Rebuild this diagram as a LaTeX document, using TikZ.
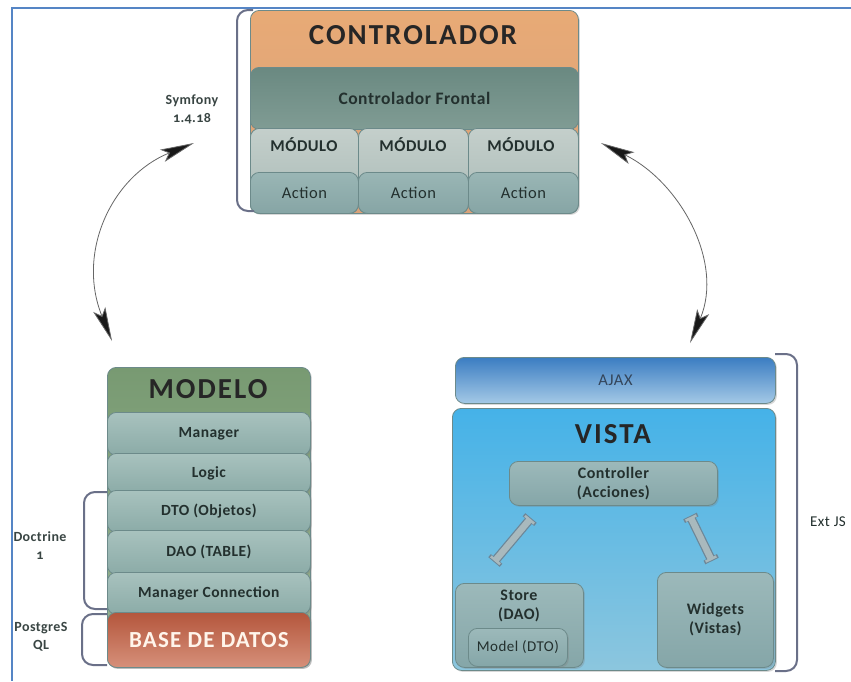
\documentclass[tikz,border=0pt]{standalone}
\usepackage{fontspec}
\setmainfont{Carlito}[LetterSpace=3, Numbers=OldStyle]
\usetikzlibrary{arrows.meta,shadows}
\definecolor{frameblue}{HTML}{5585C5}
\definecolor{brk}{HTML}{6A7088}
\definecolor{orangeT}{HTML}{E8AA76}
\definecolor{orangeB}{HTML}{D9A27A}
\definecolor{frontT}{HTML}{6A8981}
\definecolor{frontB}{HTML}{809C94}
\definecolor{modT}{HTML}{C4CFCB}
\definecolor{modB}{HTML}{A9BAB6}
\definecolor{actT}{HTML}{9AB6B5}
\definecolor{actB}{HTML}{86A5A5}
\definecolor{greenT}{HTML}{789A72}
\definecolor{greenB}{HTML}{9AB493}
\definecolor{rowT}{HTML}{A8C2BE}
\definecolor{rowB}{HTML}{8BABA7}
\definecolor{bdT}{HTML}{B4563C}
\definecolor{bdB}{HTML}{D6907A}
\definecolor{ajaxT}{HTML}{3B7DC2}
\definecolor{ajaxB}{HTML}{A4C9E6}
\definecolor{vistaT}{HTML}{45B2E8}
\definecolor{vistaB}{HTML}{8CC6DE}
\definecolor{innerT}{HTML}{9CB9BA}
\definecolor{innerB}{HTML}{85A6A8}
\definecolor{edge}{HTML}{6C8A8A}
\definecolor{txt}{HTML}{23302E}
\definecolor{ajaxtxt}{HTML}{34455A}
\definecolor{boneout}{HTML}{6D8798}
\definecolor{bonein}{HTML}{A9B9BD}
\begin{document}
\begin{tikzpicture}[x=1pt,y=-1pt,
  blk/.style={rounded corners=9pt, draw=edge, line width=0.8pt, inner sep=0pt,
    anchor=north west, text=txt},
  shd/.style={drop shadow={opacity=0.3,shadow xshift=1.5pt,shadow yshift=-1.5pt}},
  row/.style={blk, shd, top color=rowT, bottom color=rowB, minimum width=203pt,
    font=\bfseries\fontsize{15.5}{17}\selectfont},
  modbox/.style={blk, top color=modT, bottom color=modB, minimum width=#1, minimum height=85pt},
  actbox/.style={blk, top color=actT, bottom color=actB, minimum width=#1, minimum height=41pt,
    font=\fontsize{16.5}{18}\selectfont},
  inner/.style={blk, shd, top color=innerT, bottom color=innerB, align=center,
    font=\bfseries\fontsize{16}{19}\selectfont},
  bracket/.style={draw=brk, line width=2pt, rounded corners=11pt},
  side/.style={text=txt!90, align=center, font=\bfseries\fontsize{14}{18}\selectfont},
  arc/.style={draw=black!60, line width=0.8pt,
    {Stealth[length=34pt,width=13pt,inset=7pt,fill=black!90]}-{Stealth[length=34pt,width=13pt,inset=7pt,fill=black!90]}},
  title/.style={text=black!85, font=\bfseries\fontsize{29}{30}\selectfont\addfontfeatures{LetterSpace=7}}
]
\useasboundingbox (0,0) rectangle (851,681);
\fill[white] (0,0) rectangle (851,681);
% outer frame
\draw[frameblue, line width=2.5pt] (851,8) -- (12,8) -- (12,681);

% ---------------- CONTROLADOR ----------------
\node[blk, shd, top color=orangeT, bottom color=orangeB, minimum width=328pt, minimum height=203pt] (ctrl) at (250,10) {};
\node[title] (ctrltitle) at (413,35) {CONTROLADOR};
\node[blk, top color=frontT, bottom color=frontB, minimum width=328pt, minimum height=62pt,
  font=\bfseries\fontsize{17.5}{19}\selectfont] (front) at (250,67) {Controlador Frontal};
\node[modbox=108pt] (m1) at (250,128) {};
\node[modbox=110pt] (m2) at (358,128) {};
\node[modbox=110pt] (m3) at (468,128) {};
\foreach \i/\x in {1/304,2/413,3/521}{
  \node[text=txt, font=\bfseries\fontsize{16.5}{18}\selectfont] (mt\i) at (\x,145) {MÓDULO};
}
\node[actbox=108pt] (a1) at (250,172) {Action};
\node[actbox=110pt] (a2) at (358,172) {Action};
\node[actbox=110pt] (a3) at (468,172) {Action};
\draw[bracket] (253,10) -- (237,10) -- (237,211) -- (254,211);
\node[side] (symf) at (192,109) {Symfony\\1.4.18};

% ---------------- MODELO ----------------
\node[blk, shd, top color=greenT, bottom color=greenB, minimum width=203pt, minimum height=300pt] (modelo) at (107,367) {};
\node[title] (modtitle) at (208,389) {MODELO};
\node[row, minimum height=43pt] (manager) at (107,412) {Manager};
\node[row, minimum height=40pt] (logic) at (107,453) {Logic};
\node[row, minimum height=42pt] (dto) at (107,490) {DTO (Objetos)};
\node[row, minimum height=44pt] (dao) at (107,530) {DAO (TABLE)};
\node[row, minimum height=42pt] (mconn) at (107,572) {Manager Connection};
\node[blk, shd, top color=bdT, bottom color=bdB, minimum width=203pt, minimum height=55pt,
  text=white!92!orange, font=\bfseries\fontsize{23}{25}\selectfont\addfontfeatures{LetterSpace=5}] (bd) at (107,612) {BASE DE DATOS};
\draw[bracket] (107,492) -- (84,492) -- (84,609) -- (107,609);
\draw[bracket] (107,614) -- (82,614) -- (82,665) -- (107,665);
\node[side] (doctrine) at (40,546) {Doctrine\\1};
\node[side] (postgres) at (41,637) {PostgreS\\QL};

% ---------------- VISTA ----------------
\node[blk, shd, top color=ajaxT, bottom color=ajaxB, minimum width=320pt, minimum height=46pt,
  text=ajaxtxt, font=\fontsize{16.5}{18}\selectfont] (ajax) at (455,357) {AJAX};
\node[blk, shd, top color=vistaT, bottom color=vistaB, minimum width=323pt, minimum height=262pt] (vista) at (452,408) {};
\node[title] (vistatitle) at (613,434) {VISTA};
\node[inner, minimum width=208pt, minimum height=44pt] (controller) at (509,461) {Controller\\(Acciones)};
\node[blk, shd, top color=innerT, bottom color=innerB, minimum width=128pt, minimum height=84pt] (store) at (455,583) {};
\node[text=txt, align=center, font=\bfseries\fontsize{16}{19}\selectfont] (storetxt) at (519,606) {Store\\(DAO)};
\node[blk, shd, top color=innerT, bottom color=innerB, minimum width=99pt, minimum height=38pt,
  font=\fontsize{15}{17}\selectfont] (model) at (468,628) {Model (DTO)};
\node[inner, minimum width=116pt, minimum height=95pt] (widgets) at (657,572) {Widgets\\(Vistas)};
\draw[bracket] (775,354) -- (797,354) -- (797,671) -- (775,671);
\node[text=txt, font=\fontsize{15}{17}\selectfont] (extjs) at (828,522) {Ext JS};

% inner connectors
\coordinate (b1a) at (531,518);
\coordinate (b1b) at (494,562);
\coordinate (b2a) at (690,516);
\coordinate (b2b) at (712,561);
\foreach \p/\q in {b1a/b1b,b2a/b2b}{
  \draw[line width=9pt, draw=boneout,
    {Bar[width=15pt,line width=4pt]}-{Bar[width=15pt,line width=4pt]}] (\p) -- (\q);
  \draw[line width=6.5pt, draw=bonein, shorten <=1pt, shorten >=1pt,
    {Bar[width=12pt,line width=2.5pt]}-{Bar[width=12pt,line width=2.5pt]}] (\p) -- (\q);
}

% big arcs
\coordinate (la) at (194,143);
\coordinate (lb) at (112,341);
\coordinate (ra) at (601,143);
\coordinate (rb) at (690,343);
\draw[arc] (la) .. controls (112,176) and (76,252) .. (lb);
\draw[arc] (ra) .. controls (680,182) and (724,262) .. (rb);
\end{tikzpicture}
\end{document}
